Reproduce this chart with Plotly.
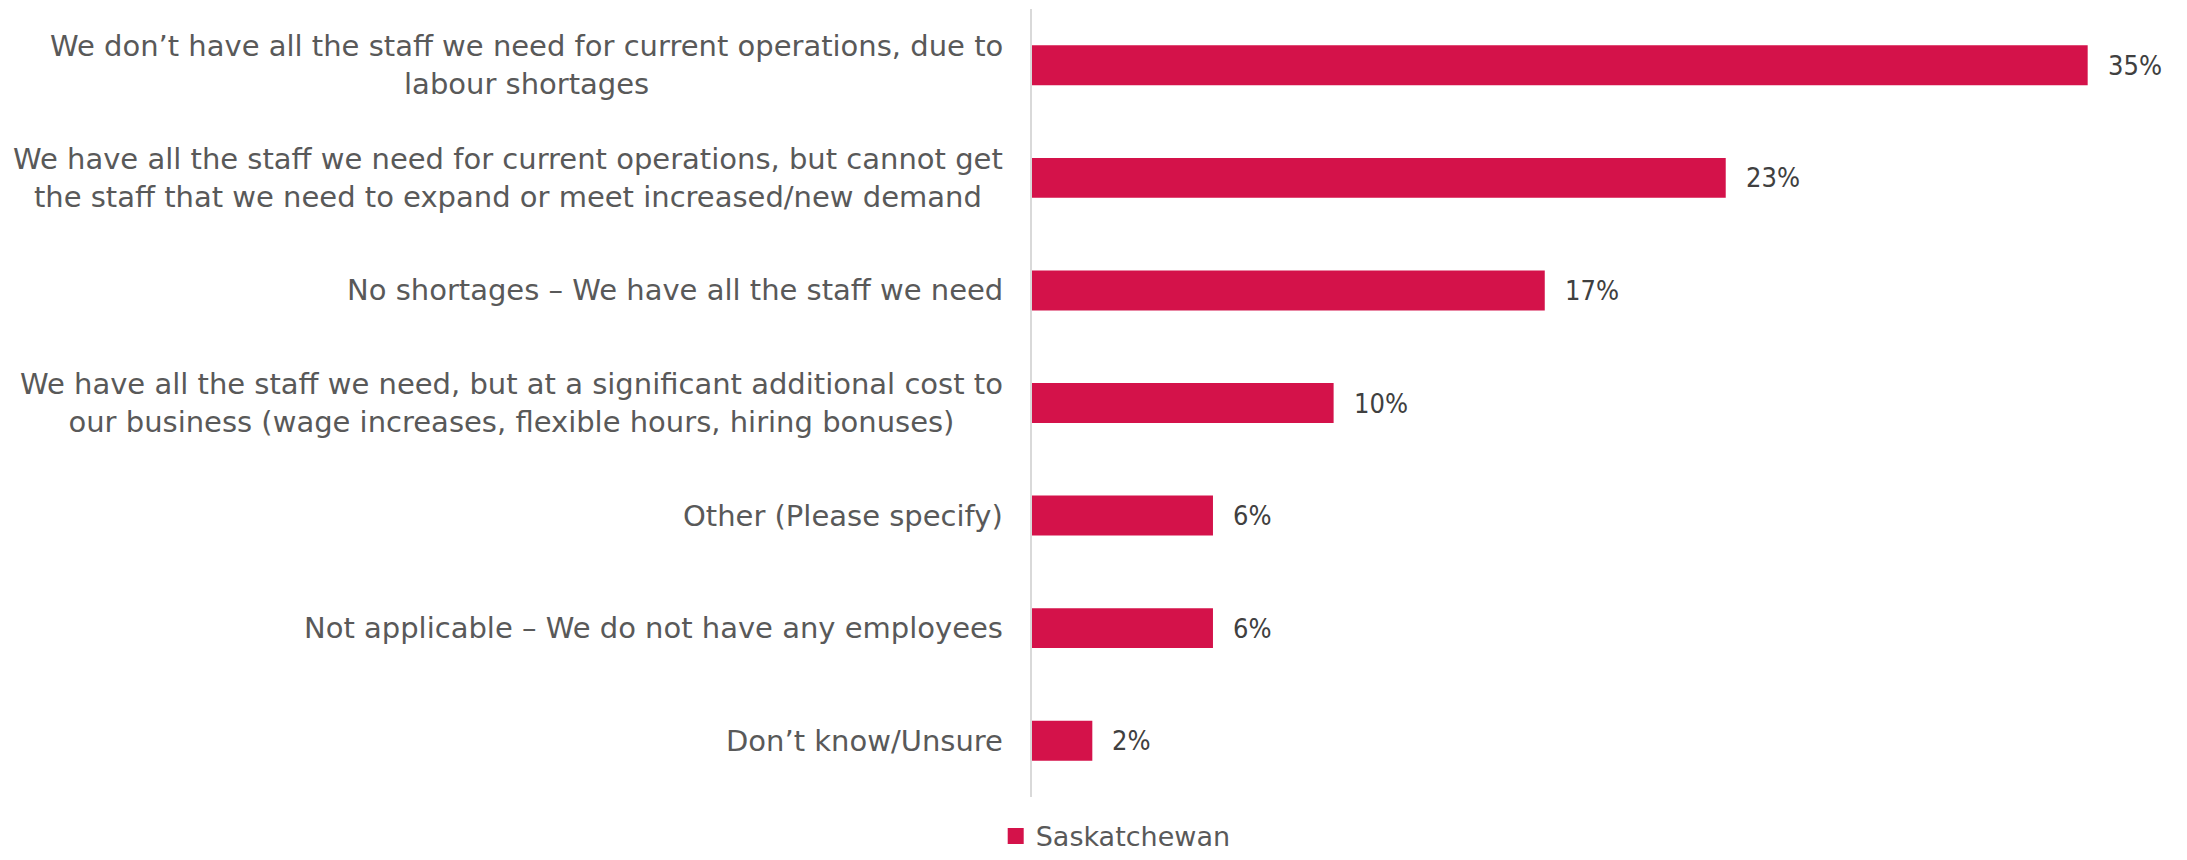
import plotly.graph_objects as go

categories = [
    "We don’t have all the staff we need for current operations, due to<br>labour shortages",
    "We have all the staff we need for current operations, but cannot get<br>the staff that we need to expand or meet increased/new demand",
    "No shortages – We have all the staff we need",
    "We have all the staff we need, but at a significant additional cost to<br>our business (wage increases, flexible hours, hiring bonuses)",
    "Other (Please specify)",
    "Not applicable – We do not have any employees",
    "Don’t know/Unsure",
]
values = [35, 23, 17, 10, 6, 6, 2]
value_labels = ["35%", "23%", "17%", "10%", "6%", "6%", "2%"]
series_name = "Saskatchewan"

BAR_COLOR = "#D4124A"
LABEL_FONT = "DejaVu Sans, sans-serif"
VALUE_FONT = "DejaVu Sans Condensed, DejaVu Sans, sans-serif"

fig = go.Figure()
fig.add_trace(go.Bar(
    y=list(range(len(categories))),
    x=values,
    orientation="h",
    name=series_name,
    marker=dict(color=BAR_COLOR, line=dict(width=0)),
    width=0.355,
    hoverinfo="skip",
    showlegend=False,
))
# legend entry with a larger square swatch
fig.add_trace(go.Scatter(
    x=[None], y=[None], mode="markers", name=series_name,
    marker=dict(symbol="square", size=16, color=BAR_COLOR),
    showlegend=True, hoverinfo="skip",
))

annotations = []
for i, (cat, v, lab) in enumerate(zip(categories, values, value_labels)):
    annotations.append(dict(
        xref="paper", yref="y", x=0, y=i, text=cat, showarrow=False,
        xanchor="right", yanchor="middle", align="center", xshift=-27,
        font=dict(family=LABEL_FONT, size=29, color="#595959"),
    ))
    annotations.append(dict(
        xref="x", yref="y", x=v, y=i, text=lab, showarrow=False,
        xanchor="left", yanchor="middle", xshift=18,
        font=dict(family=VALUE_FONT, size=27, color="#404040"),
    ))

fig.update_layout(
    width=2187, height=860,
    margin=dict(l=1032, r=39, t=9, b=63, autoexpand=False),
    paper_bgcolor="white", plot_bgcolor="white",
    showlegend=True,
    legend=dict(
        orientation="h", x=0.075, xanchor="center", y=-0.05, yanchor="middle",
        font=dict(family=LABEL_FONT, size=27, color="#595959"),
        itemwidth=30, bgcolor="rgba(0,0,0,0)",
    ),
    annotations=annotations,
    xaxis=dict(range=[0, 37], visible=False, fixedrange=True),
    yaxis=dict(
        range=[6.5, -0.5], showticklabels=False, showgrid=False, zeroline=False,
        showline=True, linecolor="#D9D9D9", linewidth=2, ticks="",
    ),
)

fig.write_html(
    "out.html",
    config={"displayModeBar": False},
    post_script="document.body.style.margin='0';document.body.style.overflow='hidden';",
)
